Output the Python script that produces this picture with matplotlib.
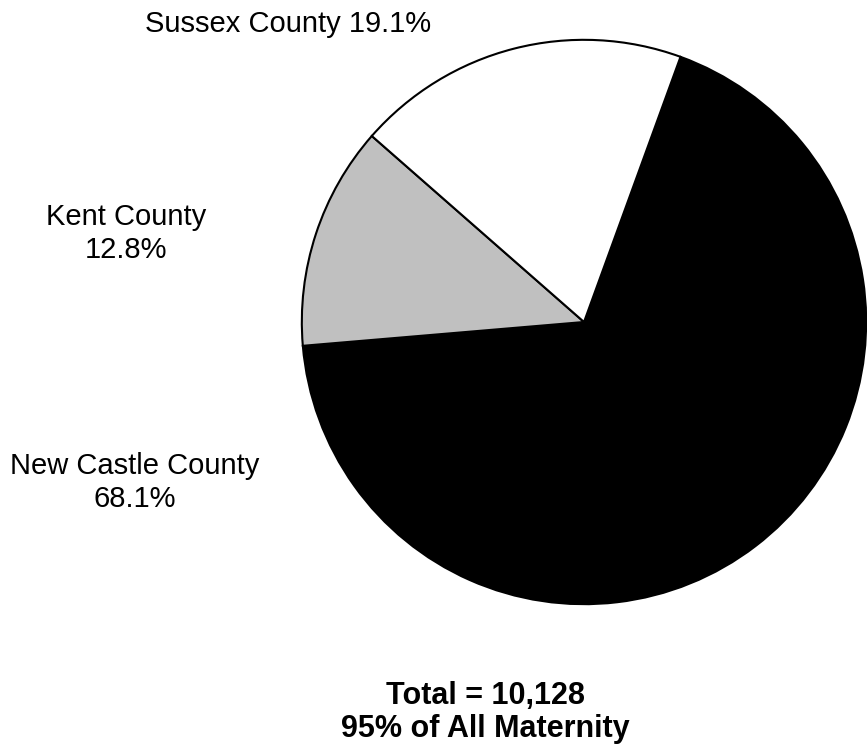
import matplotlib
matplotlib.use('Agg')
import matplotlib.pyplot as plt

plt.rcParams['font.family'] = ['Liberation Sans', 'DejaVu Sans']

# Births by county of residence
counties = ['New Castle County', 'Kent County', 'Sussex County']
shares = [68.1, 12.8, 19.1]
colors = ['#000000', '#c0c0c0', '#ffffff']
total_births = 10128
pct_of_all = 95

W, H = 867, 751
fig = plt.figure(figsize=(W / 100, H / 100), dpi=100)

# pie centred at (584, 322) px, radius 285 px
cx, cy, r = 584, 322, 285
ax = fig.add_axes([(cx - r) / W, (H - cy - r) / H, 2 * r / W, 2 * r / H])
ax.pie(shares, colors=colors, startangle=70, counterclock=False,
       radius=1, wedgeprops=dict(edgecolor='black', linewidth=1.5))
ax.set_xlim(-1.01, 1.01)
ax.set_ylim(-1.01, 1.01)
ax.set_aspect('equal')
ax.axis('off')


def px_text(x, y, s, size=21, spacing=1.22, **kw):
    # y is the baseline of the last line, in pixels from the top
    fig.text(x / W, 1 - y / H, s, ha='center', va='baseline',
             fontsize=size, linespacing=spacing, **kw)


px_text(288, 32, f'{counties[2]} {shares[2]}%')
px_text(126, 258, f'{counties[1]}\n{shares[1]}%')
px_text(135, 507, f'{counties[0]}\n{shares[0]}%')
px_text(485, 737, f'Total = {total_births:,}\n{pct_of_all}% of All Maternity',
        size=22, spacing=1.15, fontweight='bold')

fig.savefig('out.png', dpi=100, facecolor='white')
